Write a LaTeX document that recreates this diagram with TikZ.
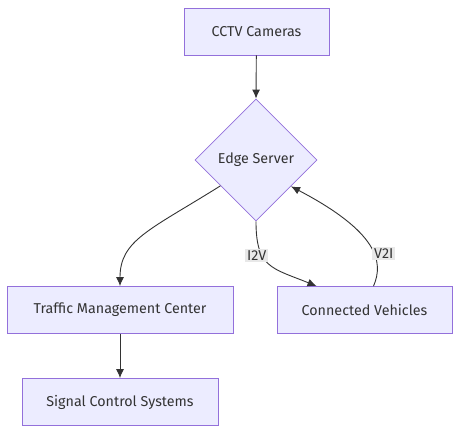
\documentclass[tikz,border=0pt]{standalone}
\usepackage{fontspec}
\setmainfont{Fira Sans}
\usetikzlibrary{shapes.geometric,arrows.meta}
\definecolor{boxfill}{HTML}{ECECFF}
\definecolor{boxline}{HTML}{9370DB}
\definecolor{edgecol}{HTML}{333333}
\definecolor{labfill}{HTML}{E8E8E8}
\begin{document}
\begin{tikzpicture}[x=1pt,y=-1pt,
  box/.style={draw=boxline,fill=boxfill,line width=0.8pt,minimum height=47pt,font=\fontsize{14.3}{16}\selectfont,text=edgecol},
  decision/.style={diamond,draw=boxline,fill=boxfill,line width=0.8pt,minimum width=122pt,minimum height=122pt,inner sep=0pt,font=\fontsize{14.3}{16}\selectfont,text=edgecol},
  link/.style={draw=edgecol,line width=0.9pt,-{Latex[length=9pt,width=8pt]}},
  linklabel/.style={fill=labfill,inner sep=2pt,font=\fontsize{14.3}{16}\selectfont,text=edgecol}]
\useasboundingbox (0,0) rectangle (460,433);

\node[box,minimum width=145pt] (cctv) at (256.5,31.5) {CCTV Cameras};
\node[decision] (edge) at (256,160) {Edge Server};
\node[box,minimum width=226pt] (tmc) at (120,310) {Traffic Management Center};
\node[box,minimum width=175pt] (cv) at (364.5,310) {Connected Vehicles};
\node[box,minimum width=196pt] (scs) at (120,402) {Signal Control Systems};

\draw[link] (cctv) -- (edge.north);
\draw[link] (edge.216) .. controls (150,230) and (120,240) .. (tmc.north);
\draw[link] (edge.south) .. controls (256,268) and (272,268) .. ([xshift=-48pt]cv.north)
  node[linklabel,pos=0.3,xshift=-4pt,yshift=-3pt] (i2v) {I2V};
\draw[link] ([xshift=9pt]cv.north) .. controls (384,262) and (378,232) .. (edge.-37)
  node[linklabel,pos=0.3,xshift=7pt,yshift=9pt] (v2i) {V2I};
\draw[link] (tmc) -- (scs);
\end{tikzpicture}
\end{document}
